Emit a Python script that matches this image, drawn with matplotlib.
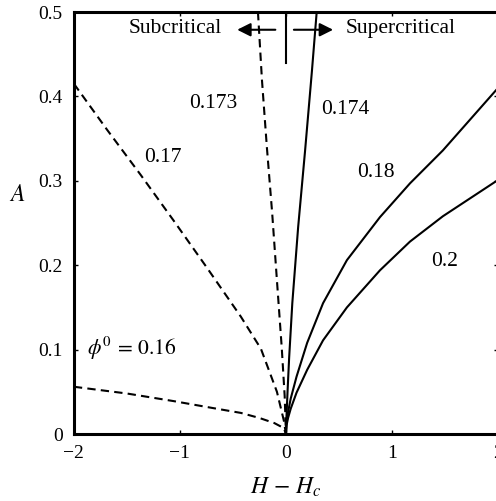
import numpy as np
import matplotlib
matplotlib.use('Agg')
import matplotlib.pyplot as plt

#
# curves, A vs H - Hc, one per phi0
#
x016 = [-2.0, -1.5, -1.06, -0.7, -0.425, -0.25, -0.11, -0.02, 0.0]
a016 = [0.056, 0.048, 0.039, 0.031, 0.025, 0.019, 0.013, 0.007, 0.0]

x017 = [-2.0, -1.69, -1.37, -1.06, -0.745, -0.425, -0.236, -0.085, -0.02, 0.0]
a017 = [0.415, 0.361, 0.307, 0.253, 0.197, 0.139, 0.101, 0.050, 0.016, 0.0]

x0173 = [-0.264, -0.226, -0.18, -0.13, -0.085, -0.04, -0.012, 0.0]
a0173 = [0.5, 0.419, 0.34, 0.262, 0.182, 0.103, 0.045, 0.0]

x0174 = [0.0, 0.005, 0.015, 0.03, 0.06, 0.115, 0.18, 0.245, 0.29]
a0174 = [0.0, 0.02, 0.05, 0.09, 0.155, 0.245, 0.335, 0.43, 0.5]

x018 = [0.0, 0.005, 0.02, 0.045, 0.10, 0.20, 0.35, 0.575, 0.887, 1.17, 1.48, 2.0]
a018 = [0.0, 0.012, 0.026, 0.042, 0.068, 0.108, 0.155, 0.206, 0.257, 0.297, 0.336, 0.41]

x02 = [0.0, 0.005, 0.02, 0.045, 0.10, 0.20, 0.35, 0.575, 0.887, 1.17, 1.48, 2.0]
a02 = [0.0, 0.010, 0.019, 0.030, 0.049, 0.076, 0.111, 0.150, 0.194, 0.228, 0.258, 0.301]

labels = ['0.173', '0.17', '0.174', '0.18', '0.2']
label_x = [-0.69, -1.16, 0.557, 0.85, 1.50]
label_y = [0.392, 0.328, 0.384, 0.31, 0.204]

xticks = [-2, -1, 0, 1, 2]
yticks = [0, 0.1, 0.2, 0.3, 0.4, 0.5]
yticklabels = ['0', '0.1', '0.2', '0.3', '0.4', '0.5']

plt.rcParams['font.family'] = ['Liberation Serif', 'DejaVu Serif']
plt.rcParams['mathtext.fontset'] = 'stix'

fig = plt.figure(figsize=(4.96, 5.01), dpi=100)
ax = fig.add_axes([0.149, 0.1337, 0.855, 0.8423])

dash = (4, 2.5)
lw = 1.5
ax.plot(x016, a016, color='k', lw=lw, dashes=dash)
ax.plot(x017, a017, color='k', lw=lw, dashes=dash)
ax.plot(x0173, a0173, color='k', lw=lw, dashes=dash)
ax.plot(x0174, a0174, color='k', lw=lw)
ax.plot(x018, a018, color='k', lw=lw)
ax.plot(x02, a02, color='k', lw=lw)

fs = 15.5
for t, lx, ly in zip(labels, label_x, label_y):
    ax.text(lx, ly, t, fontsize=fs, ha='center', va='center')
ax.text(-1.877, 0.102, r'$\phi^0 \,=\, 0.16$', fontsize=fs, ha='left', va='center')

# subcritical / supercritical marker
ax.text(-1.04, 0.481, 'Subcritical', fontsize=fs, ha='center', va='center')
ax.text(0.566, 0.481, 'Supercritical', fontsize=fs, ha='left', va='center')
ax.annotate('', xy=(-0.46, 0.479), xytext=(-0.10, 0.479),
            arrowprops=dict(arrowstyle='-|>', color='k', lw=1.5, mutation_scale=20,
                            shrinkA=0, shrinkB=0))
ax.annotate('', xy=(0.445, 0.479), xytext=(0.075, 0.479),
            arrowprops=dict(arrowstyle='-|>', color='k', lw=1.5, mutation_scale=20,
                            shrinkA=0, shrinkB=0))
ax.plot([0, 0], [0.44, 0.5], color='k', lw=1.5)

ax.set_xlim(-2, 2)
ax.set_ylim(0, 0.5)
ax.set_xticks(xticks)
ax.set_yticks(yticks)
ax.set_yticklabels(yticklabels)
ax.tick_params(direction='in', length=3, width=1, top=True, right=True,
               labelsize=14, pad=8)
for s in ax.spines.values():
    s.set_linewidth(2.2)

ax.text(0, -0.063, r'$H \,-\, H_c$', fontsize=17, ha='center', va='center', clip_on=False)
ax.text(-2.53, 0.283, r'$A$', fontsize=17, ha='center', va='center', clip_on=False)

plt.savefig('out.png', dpi=100)
